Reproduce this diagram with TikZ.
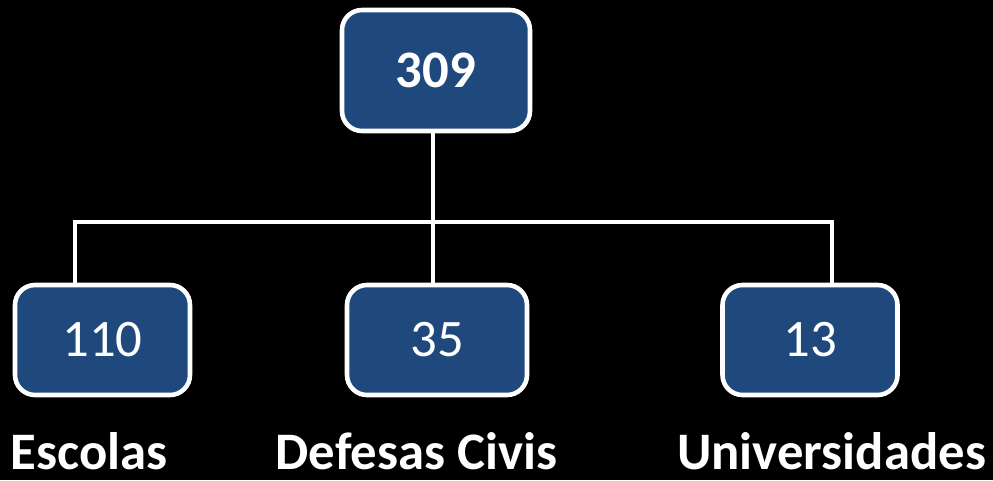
\documentclass[tikz,border=0pt]{standalone}
\usepackage{fontspec}
\setmainfont{Carlito}
\usetikzlibrary{positioning,calc,backgrounds}
\definecolor{boxblue}{HTML}{1F497D}
\definecolor{linewhite}{HTML}{FFFFFF}

\tikzset{
  orgbox/.style={draw=linewhite, line width=2.6pt, fill=boxblue, rounded corners=0.4cm,
    text=white, inner sep=0pt, font=\fontsize{30}{32}\selectfont},
  link/.style={draw=linewhite, line width=2.4pt},
  caption/.style={text=white, inner sep=0pt, anchor=base, font=\fontsize{30}{32}\selectfont\bfseries}
}

\begin{document}
\begin{tikzpicture}
% background and frame
\fill[black] (0,0) rectangle (19.86,9.6);
\useasboundingbox (0,0) rectangle (19.86,9.6);

% Top box
\node[orgbox, minimum width=3.76cm, minimum height=2.42cm, font=\fontsize{30}{32}\selectfont\bfseries] (total) at (8.72,8.19) {309};

% Bottom boxes
\node[orgbox, minimum width=3.5cm, minimum height=2.2cm] (esc) at (2.05,2.8) {110};
\node[orgbox, minimum width=3.6cm, minimum height=2.2cm] (def) at (8.74,2.8) {35};
\node[orgbox, minimum width=3.5cm, minimum height=2.2cm] (uni) at (16.2,2.8) {13};

% connectors
\coordinate (bar) at (8.66,5.16);
\draw[link] (total.south -| bar) -- (bar);
\draw[link] ([xshift=-0.55cm]esc.north) |- (bar) -| ([xshift=0.44cm]uni.north);
\draw[link] (bar) -- (def.north -| bar);

% labels
\node[caption] (escl) at (1.78,0.22) {Escolas};
\node[caption] (defl) at (8.33,0.22) {Defesas Civis};
\node[caption] (unil) at (16.63,0.22) {Universidades};
\end{tikzpicture}
\end{document}
